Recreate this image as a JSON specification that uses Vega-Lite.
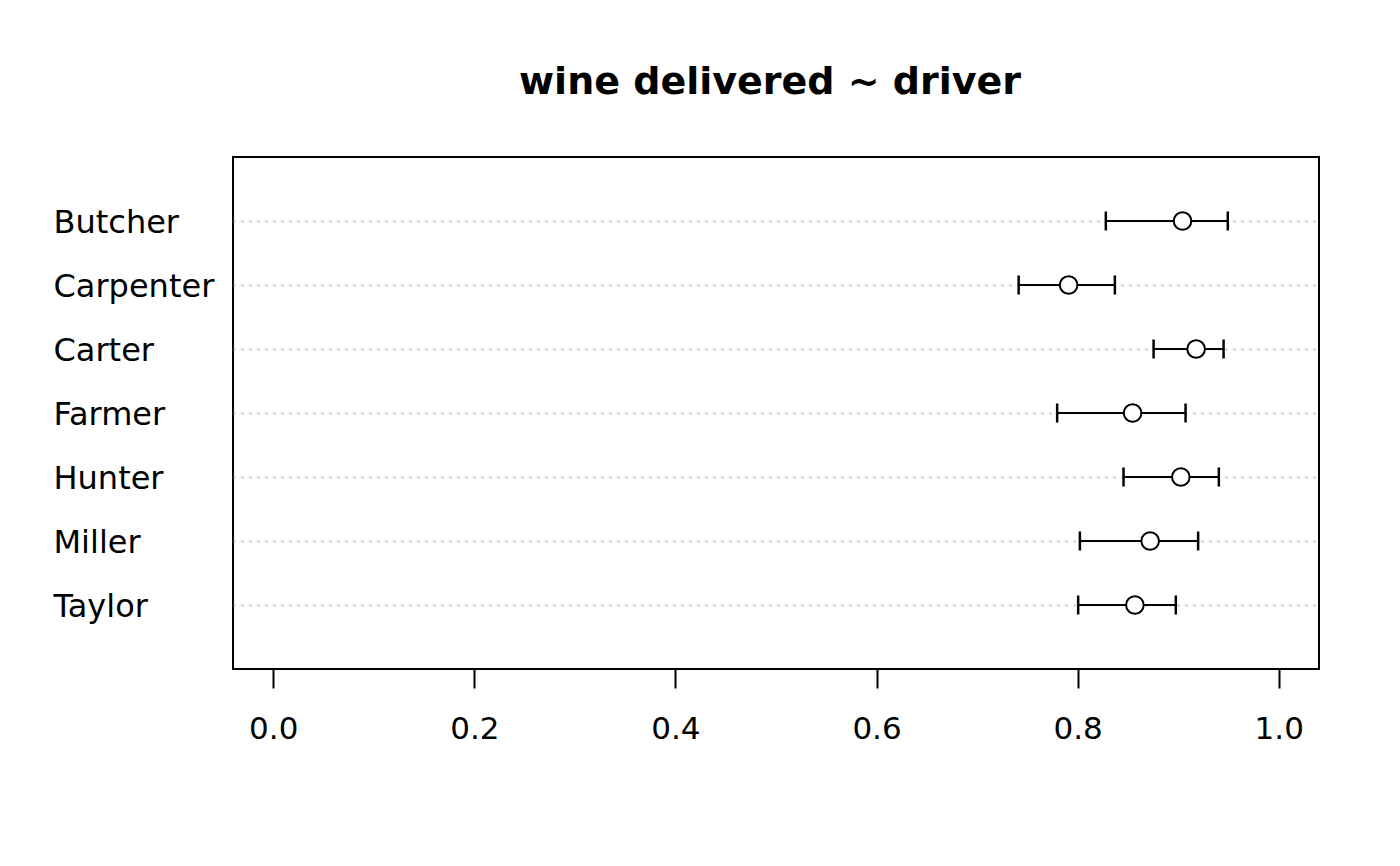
{
  "$schema": "https://vega.github.io/schema/vega-lite/v6.json",
  "width": 1086,
  "height": 512,
  "autosize": {"type": "none"},
  "padding": {"left": 233, "top": 157, "right": 81, "bottom": 197},
  "background": "white",
  "title": {
    "text": "wine delivered ~ driver",
    "font": "DejaVu Sans",
    "fontSize": 38,
    "fontWeight": "bold",
    "color": "black",
    "anchor": "middle",
    "frame": "group",
    "baseline": "alphabetic",
    "offset": 25,
    "dx": -6
  },
  "config": {
    "view": {"stroke": "black", "strokeWidth": 2},
    "axis": {"labelFont": "DejaVu Sans", "labelColor": "black", "labelFontSize": 31}
  },
  "data": {
    "values": [
      {"driver": "Butcher", "mean": 0.9043, "lower": 0.828, "upper": 0.9493},
      {"driver": "Carpenter", "mean": 0.791, "lower": 0.7413, "upper": 0.837},
      {"driver": "Carter", "mean": 0.9178, "lower": 0.8755, "upper": 0.9451},
      {"driver": "Farmer", "mean": 0.8546, "lower": 0.7796, "upper": 0.9073},
      {"driver": "Hunter", "mean": 0.9026, "lower": 0.8456, "upper": 0.9404},
      {"driver": "Miller", "mean": 0.8721, "lower": 0.8022, "upper": 0.9198},
      {"driver": "Taylor", "mean": 0.8569, "lower": 0.8005, "upper": 0.8976}
    ]
  },
  "encoding": {
    "y": {
      "field": "driver",
      "type": "nominal",
      "scale": {"type": "point", "padding": 1},
      "axis": {
        "title": null,
        "ticks": false,
        "tickSize": 0,
        "domain": false,
        "labelAlign": "left",
        "labelPadding": 180,
        "labelFontSize": 32,
        "labelBaseline": "alphabetic",
        "labelOffset": 11,
        "grid": true,
        "gridDash": [2, 6],
        "gridColor": "#c4c4c4",
        "gridWidth": 2
      }
    }
  },
  "layer": [
    {
      "mark": {"type": "rule", "color": "black", "strokeWidth": 2},
      "encoding": {
        "x": {
          "field": "lower",
          "type": "quantitative",
          "scale": {"domain": [-0.04, 1.04], "nice": false, "zero": false},
          "axis": {
            "title": null,
            "values": [0, 0.2, 0.4, 0.6, 0.8, 1.0],
            "format": ".1f",
            "grid": false,
            "domain": false,
            "tickSize": 19,
            "tickWidth": 2,
            "tickColor": "black",
            "labelBaseline": "alphabetic",
            "labelPadding": 50,
            "labelFlush": false
          }
        },
        "x2": {"field": "upper"}
      }
    },
    {
      "mark": {"type": "tick", "color": "black", "size": 19, "thickness": 2.5, "orient": "vertical", "opacity": 1},
      "encoding": {"x": {"field": "lower", "type": "quantitative"}}
    },
    {
      "mark": {"type": "tick", "color": "black", "size": 19, "thickness": 2.5, "orient": "vertical", "opacity": 1},
      "encoding": {"x": {"field": "upper", "type": "quantitative"}}
    },
    {
      "mark": {"type": "point", "shape": "circle", "filled": false, "fill": "white", "fillOpacity": 1, "stroke": "black", "strokeWidth": 2, "size": 310, "opacity": 1},
      "encoding": {"x": {"field": "mean", "type": "quantitative"}}
    }
  ]
}
